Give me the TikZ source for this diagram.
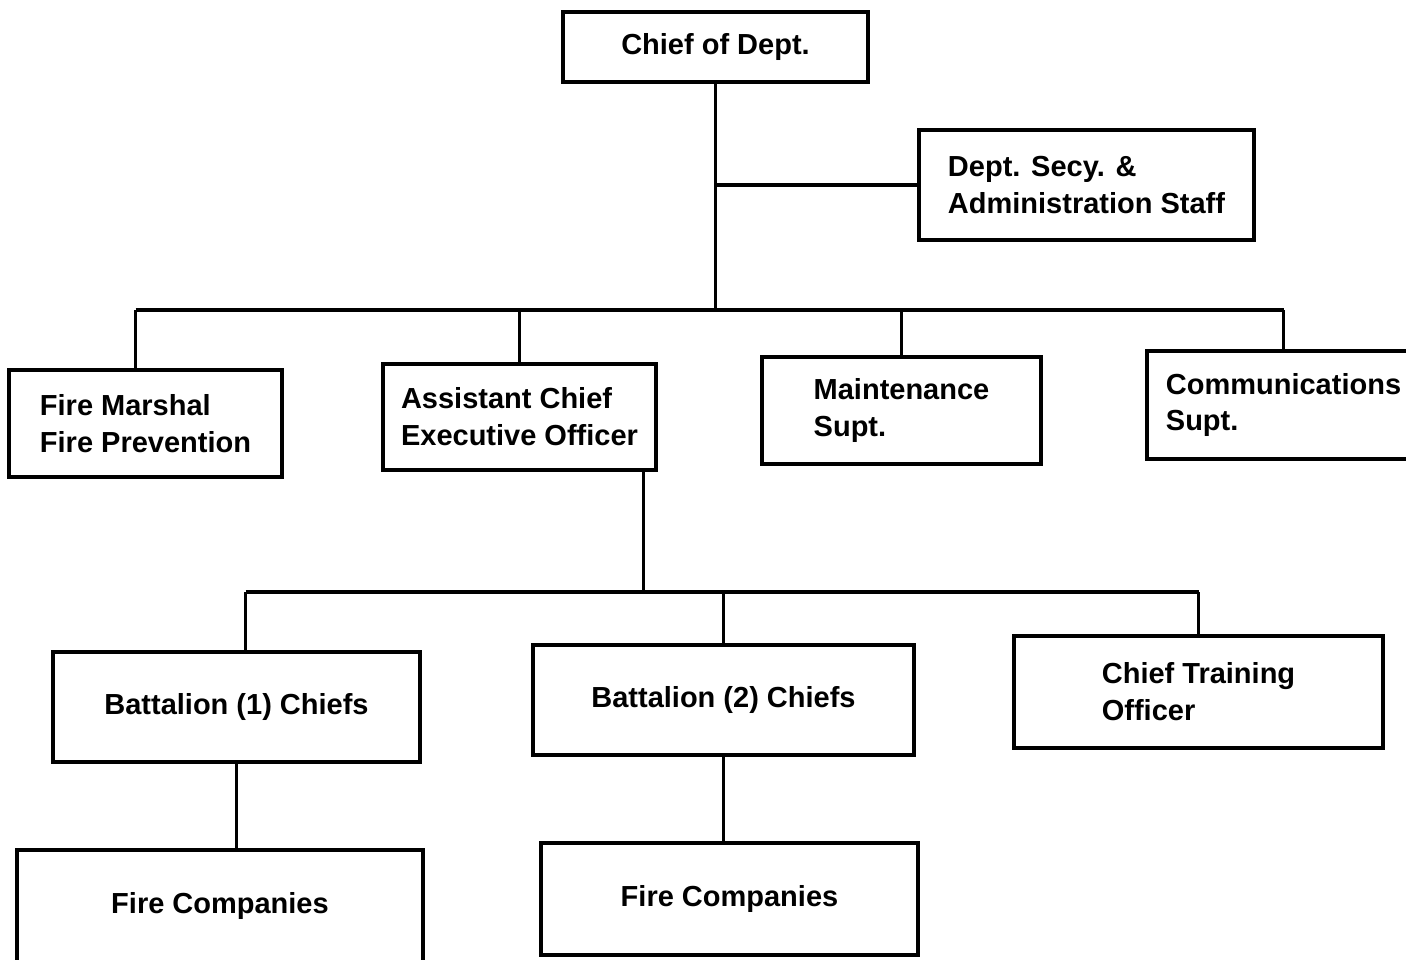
\documentclass[tikz,border=0pt]{standalone}
\usepackage{fontspec}
\setmainfont{Liberation Sans}
\usetikzlibrary{positioning,calc}

\begin{document}
\begin{tikzpicture}[
				box/.style={rectangle, draw=black, line width=1.8pt, align=left, font=\fontsize{16.5}{21}\selectfont\bfseries},
				link/.style={line width=1.8pt}
			]
			\useasboundingbox (0,0) rectangle (28.12,-19.2);
			\node[box, minimum width=6.1cm, minimum height=1.4cm] (chief) at (14.31,-0.94) {Chief of Dept.};
			\node[box, minimum width=6.7cm, minimum height=2.2cm] (secy) at (21.73,-3.7) {Dept. Secy. \&\\Administration Staff};
			\node[box, minimum width=5.46cm, minimum height=2.14cm] (marshal) at (2.91,-8.47) {Fire Marshal\\Fire Prevention};
			\node[box, minimum width=5.46cm, minimum height=2.12cm] (asst) at (10.39,-8.34) {Assistant Chief\\Executive Officer};
			\node[box, minimum width=5.58cm, minimum height=2.14cm] (maint) at (18.03,-8.21) {Maintenance\\Supt.};
			\node[box, minimum width=5.46cm, minimum height=2.16cm] (comm) at (25.67,-8.1) {Communications\\Supt.};
			\node[box, minimum width=7.34cm, minimum height=2.2cm] (bat1) at (4.73,-14.14) {Battalion (1) Chiefs};
			\node[box, minimum width=7.62cm, minimum height=2.2cm] (bat2) at (14.47,-14.0) {Battalion (2) Chiefs};
			\node[box, minimum width=7.38cm, minimum height=2.24cm] (train) at (23.97,-13.84) {Chief Training\\Officer};
			\node[box, minimum width=8.12cm, minimum height=2.24cm] (fire1) at (4.4,-18.12) {Fire Companies};
			\node[box, minimum width=7.54cm, minimum height=2.24cm] (fire2) at (14.59,-17.98) {Fire Companies};
			\coordinate (bus) at (14.2,-6.2);
			\coordinate (tap) at ($(asst.south east)+(-0.28,0)$);
			\coordinate (bus2) at (12.84,-11.84);
			\coordinate (drop1) at ($(marshal.north)+(-0.2,0)$);
			\coordinate (drop2) at ($(bat1.north)+(0.18,0)$);
			\begin{scope}[link]
			\draw (chief.south) -- (chief.south |- bus);
			\draw (secy.west) -- (secy.west -| chief.south);
			\draw (drop1 |- bus) -- (comm.north |- bus);
			\draw (drop1) -- (drop1 |- bus);
			\draw (asst.north) -- (asst.north |- bus);
			\draw (maint.north) -- (maint.north |- bus);
			\draw (comm.north) -- (comm.north |- bus);
			\draw (tap) -- (tap |- bus2);
			\draw (drop2 |- bus2) -- (train.north |- bus2);
			\draw (drop2) -- (drop2 |- bus2);
			\draw (bat2.north) -- (bat2.north |- bus2);
			\draw (train.north) -- (train.north |- bus2);
			\draw (bat1.south) -- (bat1.south |- fire1.north);
			\draw (bat2.south) -- (bat2.south |- fire2.north);
			\end{scope}
			\end{tikzpicture}
\end{document}
